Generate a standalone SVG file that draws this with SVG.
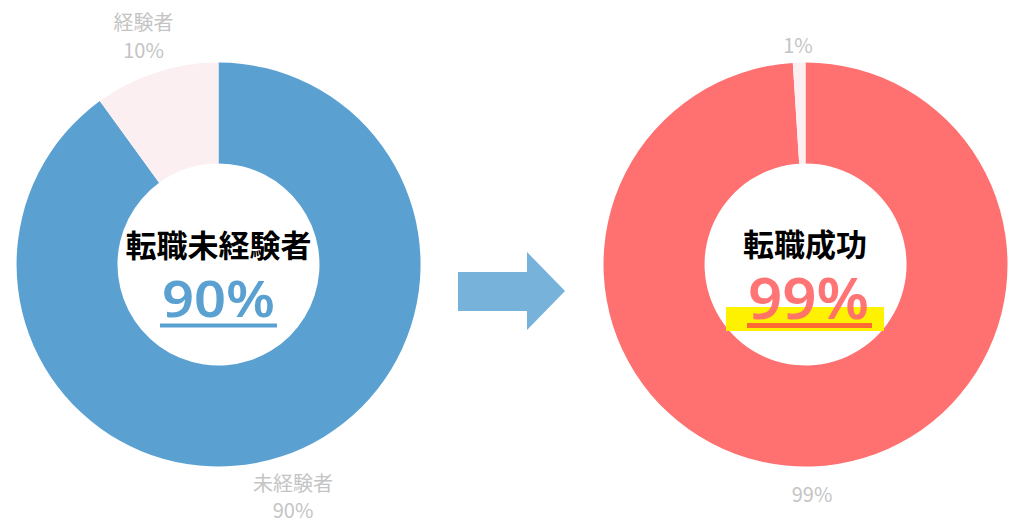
<svg xmlns="http://www.w3.org/2000/svg" width="1024" height="531" viewBox="0 0 1024 531">
<style>
.lbl{font-family:"Noto Sans CJK JP","Noto Sans",sans-serif;font-size:20px;fill:#C4C4C4;text-anchor:middle;font-weight:400}
.ttl{font-family:"Noto Sans CJK JP","Noto Sans",sans-serif;font-size:31px;fill:#000;text-anchor:middle;font-weight:700}
.big{font-family:"Noto Sans","Noto Sans CJK JP",sans-serif;text-anchor:middle;font-weight:600}
</style>
<rect width="1024" height="531" fill="#fff"/>
<g id="donut-left">
<path d="M218.5,62.5 A202,202 0 1 1 99.8,101.1 L159.1,182.8 A101,101 0 1 0 218.5,163.5 Z" fill="#5AA1D2"/>
<path d="M218.5,62.5 L218.5,163.5 A101,101 0 0 0 159.1,182.8 L99.8,101.1 A202,202 0 0 1 218.5,62.5 Z" fill="#FCEFF2"/>
<text class="lbl" x="143.5" y="30">経験者</text>
<text class="lbl" x="143.5" y="58">10%</text>
<text class="lbl" x="293" y="491">未経験者</text>
<text class="lbl" x="293" y="518">90%</text>
<text class="ttl" x="218.5" y="257">転職未経験者</text>
<text class="big" x="218.5" y="317" font-size="51" fill="#5AA1D2" textLength="113" lengthAdjust="spacingAndGlyphs">90%</text>
<rect x="160" y="323.5" width="117" height="4" fill="#5AA1D2"/>
</g>
<g id="connectors">
<polygon points="458,272 527,272 527,252 565,291 527,330 527,311 458,311" fill="#76B2DA"/>
</g>
<g id="donut-right">
<path d="M805.5,62.5 A202,202 0 1 1 792.8,62.9 L799.2,163.7 A101,101 0 1 0 805.5,163.5 Z" fill="#FF7070"/>
<path d="M805.5,62.5 L805.5,163.5 A101,101 0 0 0 799.2,163.7 L792.8,62.9 A202,202 0 0 1 805.5,62.5 Z" fill="#FCEFF2"/>
<text class="lbl" x="798" y="53">1%</text>
<text class="lbl" x="812" y="502">99%</text>
<text class="ttl" x="805" y="256">転職成功</text>
<rect x="726" y="307" width="158" height="24" fill="#FFF200"/>
<text class="big" x="808.5" y="319" font-size="57" fill="#FF6B6B" fill-opacity="0.94" textLength="121" lengthAdjust="spacingAndGlyphs">99%</text>
<rect x="747" y="323" width="125" height="5" fill="#FF6A33"/>
</g>
</svg>
